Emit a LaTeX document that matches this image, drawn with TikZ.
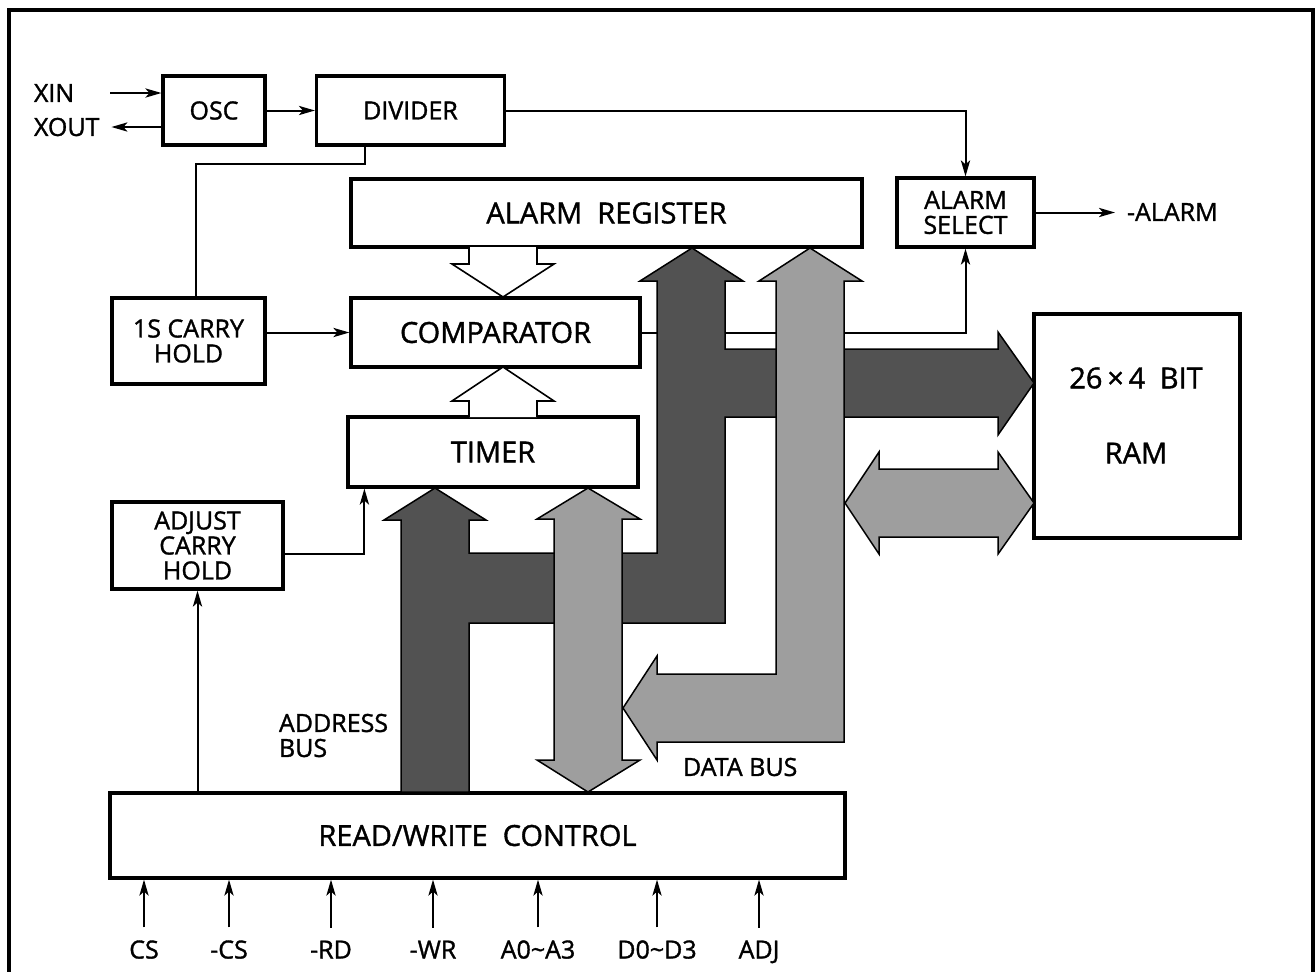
\documentclass[tikz,border=0pt]{standalone}
\usepackage{fontspec}
\setmainfont{Open Sans}[FakeBold=1.3]
\usetikzlibrary{arrows.meta}

\begin{document}
\begin{tikzpicture}[x=0.5pt,y=-0.5pt,line width=1pt,
    font=\fontsize{12.5}{12.5}\selectfont,
    >={Stealth[length=8pt,width=4.6pt,inset=2pt]},
    blk/.style={draw,line width=1.6pt,inner sep=0pt,align=center},
    bigfont/.style={font=\fontsize{14.5}{17}\selectfont},
    openarrow/.style={draw,line width=0.8pt,fill=white},
    darkbus/.style={draw,line width=0.75pt,fill=black!68},
    lightbus/.style={draw,line width=0.75pt,fill=black!38}]
    \useasboundingbox (0,0) rectangle (1316,971);
    \draw[line width=1.7pt] (9,990) -- (9,10) -- (1313,10) -- (1313,990);

    \node[blk,minimum width=51pt,minimum height=34.5pt] (osc) at (214,110.5) {OSC};
    \node[blk,minimum width=94pt,minimum height=34.5pt] (divider) at (410.5,110.5) {DIVIDER};
    \node[blk,bigfont,minimum width=255.5pt,minimum height=34pt] (alreg) at (606.5,213) {ALARM\ \ REGISTER};
    \node[blk,minimum width=68.5pt,minimum height=34.5pt] (alsel) at (965.5,212.5) {ALARM\\SELECT};
    \node[blk,minimum width=76.5pt,minimum height=43pt] (carry) at (188.5,341) {1S CARRY\\HOLD};
    \node[blk,bigfont,minimum width=144.5pt,minimum height=34.5pt] (comp) at (495.5,332.5) {COMPARATOR};
    \node[blk,bigfont,minimum width=145pt,minimum height=35pt] (timer) at (493,452) {TIMER};
    \node[blk,minimum width=85.5pt,minimum height=43.5pt] (adjust) at (197.5,545.5) {ADJUST\\CARRY\\HOLD};
    \node[blk,minimum width=103pt,minimum height=112pt] (ram) at (1137,426) {};
    \node[bigfont] (ramsize) at (1136,378) {26\,×\,4\enspace BIT};
    \node[bigfont] (ramname) at (1136,453) {RAM};
    \node[blk,bigfont,minimum width=367.5pt,minimum height=42.5pt] (rw) at (477.5,835.5) {READ/WRITE\ \ CONTROL};

    \node[anchor=west,inner sep=0pt] (xin) at (33,93) {XIN};
    \node[anchor=west,inner sep=0pt] (xout) at (33,127) {XOUT};
    \node[anchor=west,inner sep=0pt] (alarm) at (1126,212) {-ALARM};
    \node[anchor=west,align=left,inner sep=0pt] (addrlbl) at (278,735.5) {ADDRESS\\BUS};
    \node[anchor=west,inner sep=0pt] (datalbl) at (682,767) {DATA BUS};

    \draw[->] ([xshift=17.5pt]xin.east) -- (xin.east -| osc.west);
    \draw[->] (xout.east -| osc.west) -- ([xshift=5.5pt]xout.east);
    \draw[->] (osc) -- (divider);
    \draw[->] (divider.east) -| (alsel.north);
    \draw ([xshift=25pt]divider.south west) -- ++(0,17) -| ([xshift=3.75pt]carry.north);
    \draw[->] (carry.east |- comp.west) -- (comp.west);
    \draw[->] (comp.east) -| (alsel.south);
    \draw[->] (alsel.east) -- ([xshift=-5.5pt]alsel.east -| alarm.west);
    \draw[->] ([yshift=-4.25pt]adjust.east) -| ([xshift=9pt]timer.south west);
    \draw[->] (rw.north -| adjust.south) -- (adjust.south);
    \foreach \x/\t [count=\i] in {144/CS,229/-CS,331/-RD,433/-WR,538/A0\textasciitilde A3,657/D0\textasciitilde D3,759/ADJ}{%
      \node[anchor=base,inner ysep=6pt] (in\i) at (\x,958.5) {\t};
      \draw[->] (in\i.north) -- (in\i.north |- rw.south);
    }

    \draw[openarrow] (469,247) -- (469,264) -- (452,264) -- (503,297) -- (554,264) -- (537,264) -- (537,247);
    \draw[openarrow] (469,417) -- (469,401) -- (452,401) -- (503,367) -- (554,401) -- (537,401) -- (537,417);

    \draw[darkbus] (401,792) -- (401,520) -- (384,520) -- (435,488) -- (486,520) -- (469,520)
      -- (469,553) -- (657,553) -- (657,281) -- (640,281) -- (692,248) -- (743,281) -- (725,281)
      -- (725,349) -- (998,349) -- (998,332) -- (1034,383) -- (998,435) -- (998,417) -- (725,417)
      -- (725,623) -- (469,623) -- (469,792) -- cycle;

    \draw[lightbus] (810,248) -- (862,281) -- (844,281) -- (844,742) -- (657,742) -- (657,760)
      -- (623,708) -- (657,656) -- (657,674) -- (776,674) -- (776,281) -- (759,281) -- cycle;
    \draw[lightbus] (588,488) -- (640,519) -- (622,519) -- (622,760) -- (640,760) -- (588,792)
      -- (537,760) -- (554,760) -- (554,519) -- (537,519) -- cycle;
    \draw[lightbus] (845,503) -- (879,452) -- (879,469) -- (998,469) -- (998,452) -- (1034,503)
      -- (998,554) -- (998,537) -- (879,537) -- (879,554) -- cycle;
\end{tikzpicture}
\end{document}
